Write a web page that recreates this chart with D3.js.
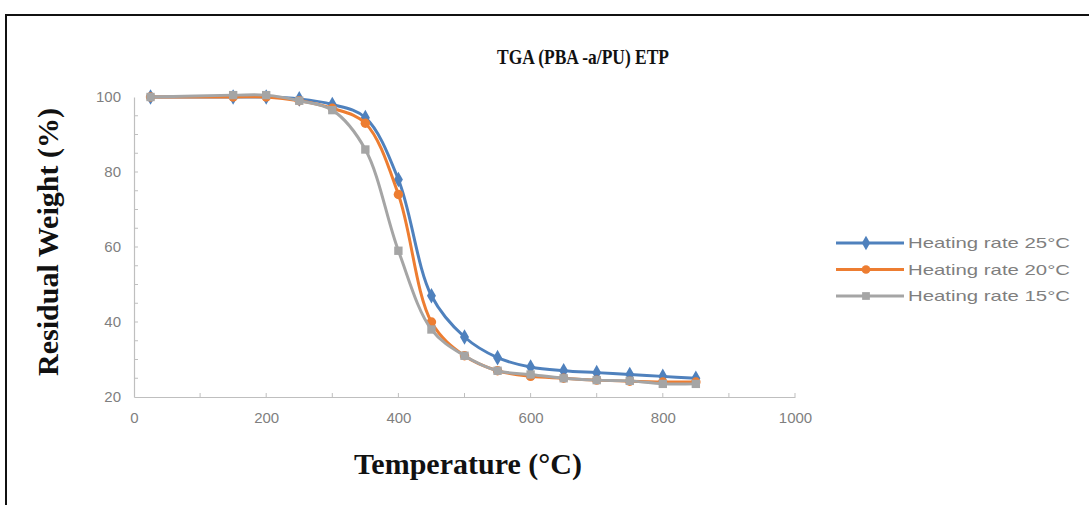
<!DOCTYPE html>
<html>
<head>
<meta charset="utf-8">
<script src="https://cdn.jsdelivr.net/npm/d3@7"></script>
<style>
  body { margin: 0; background: #fff; }
  svg { display: block; }
</style>
</head>
<body>
<div id="chart"></div>
<script>
// temperatures (°C) where the samples were read
const temps = [25, 150, 200, 250, 300, 350, 400, 450, 500, 550, 600, 650, 700, 750, 800, 850];

const rate25 = [100, 100, 100, 99.5, 98, 94.5, 78, 47, 36, 30.5, 28, 27, 26.5, 26, 25.5, 25];
const rate20 = [100, 100, 100, 99, 97, 93, 74, 40, 31, 27, 25.5, 25, 24.5, 24.2, 24, 24];
const rate15 = [100, 100.5, 100.5, 99, 96.5, 86, 59, 38, 31, 27, 26, 25, 24.5, 24.3, 23.5, 23.5];

const seriesNames = ['Heating rate 25°C', 'Heating rate 20°C', 'Heating rate 15°C'];
const xTicks = [0, 200, 400, 600, 800, 1000];
const yTicks = [20, 40, 60, 80, 100];

const width = 1089;
const height = 505;
const margin = { top: 97, left: 134, right: 294, bottom: 108 };

const svg = d3.select('#chart')
  .append('svg')
  .attr('width', width)
  .attr('height', height);

// outer frame
svg.append('rect')
  .attr('x', 6).attr('y', 15)
  .attr('width', width + 10).attr('height', height)
  .attr('fill', 'none')
  .attr('stroke', '#111')
  .attr('stroke-width', 2);

const x = d3.scaleLinear().domain([0, 1000]).range([margin.left, width - margin.right]);
const y = d3.scaleLinear().domain([20, 100]).range([height - margin.bottom, margin.top]);

const labelColor = '#7f7f7f';
const axisColor = '#bfbfbf';
const sans = 'Liberation Sans, Arial, sans-serif';
const serif = 'Liberation Serif, Times New Roman, serif';

// x axis
const xAxis = svg.append('g')
  .attr('transform', `translate(0,${y(20)})`)
  .call(d3.axisBottom(x).tickValues(xTicks).tickFormat(d3.format('d')).tickSize(0).tickPadding(15));
xAxis.select('.domain').attr('stroke', axisColor).attr('stroke-width', 1.2);
xAxis.selectAll('text')
  .attr('fill', labelColor)
  .style('font-family', sans)
  .style('font-size', '15px');

// small ticks every 100 along the bottom
svg.append('g')
  .selectAll('line')
  .data(d3.range(100, 1001, 100))
  .join('line')
  .attr('x1', (d) => x(d)).attr('x2', (d) => x(d))
  .attr('y1', y(20)).attr('y2', y(20) - 4)
  .attr('stroke', axisColor);

// y axis
const yAxis = svg.append('g')
  .attr('transform', `translate(${margin.left},0)`)
  .call(d3.axisLeft(y).tickValues(yTicks).tickSize(0).tickPadding(13));
yAxis.select('.domain').attr('stroke', axisColor).attr('stroke-width', 1.2);
yAxis.selectAll('text')
  .attr('fill', labelColor)
  .style('font-family', sans)
  .style('font-size', '15px');

svg.append('g')
  .selectAll('line')
  .data(d3.range(25, 100, 5))
  .join('line')
  .attr('x1', margin.left).attr('x2', margin.left + 4)
  .attr('y1', (d) => y(d)).attr('y2', (d) => y(d))
  .attr('stroke', axisColor);

// series
const colors = ['#4f81bd', '#ed7d31', '#a5a5a5'];
const symbols = [d3.symbolDiamond, d3.symbolCircle, d3.symbolSquare];
const allSeries = [rate25, rate20, rate15];

const line = d3.line()
  .x((d) => x(d.t))
  .y((d) => y(d.v))
  .curve(d3.curveCatmullRom.alpha(0.5));

// the 15 °C series is drawn last so it sits on top like the reference
[0, 1, 2].forEach((i) => {
  const pts = temps.map((t, j) => ({ t: t, v: allSeries[i][j] }));
  const g = svg.append('g');
  g.append('path')
    .datum(pts)
    .attr('d', line)
    .attr('fill', 'none')
    .attr('stroke', colors[i])
    .attr('stroke-width', 3);
  g.selectAll('path.mark')
    .data(pts)
    .join('path')
    .attr('class', 'mark')
    .attr('transform', (d) => `translate(${x(d.t)},${y(d.v)})`)
    .attr('d', d3.symbol().type(symbols[i]).size(70))
    .attr('fill', colors[i]);
});

// legend
const legend = svg.append('g');
seriesNames.forEach((name, i) => {
  const ly = 243 + i * 26.5;
  legend.append('line')
    .attr('x1', 836).attr('x2', 904)
    .attr('y1', ly).attr('y2', ly)
    .attr('stroke', colors[i])
    .attr('stroke-width', 3);
  legend.append('path')
    .attr('transform', `translate(866,${ly})`)
    .attr('d', d3.symbol().type(symbols[i]).size(60))
    .attr('fill', colors[i]);
  legend.append('text')
    .attr('x', 908).attr('y', ly + 5)
    .attr('fill', labelColor)
    .attr('textLength', 162)
    .attr('lengthAdjust', 'spacingAndGlyphs')
    .style('font-family', sans)
    .style('font-size', '15px')
    .text(name);
});

// title and axis titles
svg.append('text')
  .attr('x', 497).attr('y', 64)
  .attr('textLength', 172)
  .attr('lengthAdjust', 'spacingAndGlyphs')
  .style('font-family', serif)
  .style('font-weight', 'bold')
  .style('font-size', '22px')
  .attr('fill', '#111')
  .text('TGA (PBA -a/PU) ETP');

svg.append('text')
  .attr('x', 468).attr('y', 474)
  .attr('text-anchor', 'middle')
  .style('font-family', serif)
  .style('font-weight', 'bold')
  .style('font-size', '30px')
  .attr('fill', '#111')
  .text('Temperature (°C)');

svg.append('text')
  .attr('transform', 'translate(58,242) rotate(-90)')
  .attr('text-anchor', 'middle')
  .style('font-family', serif)
  .style('font-weight', 'bold')
  .style('font-size', '30px')
  .attr('fill', '#111')
  .text('Residual Weight (%)');
</script>
</body>
</html>
